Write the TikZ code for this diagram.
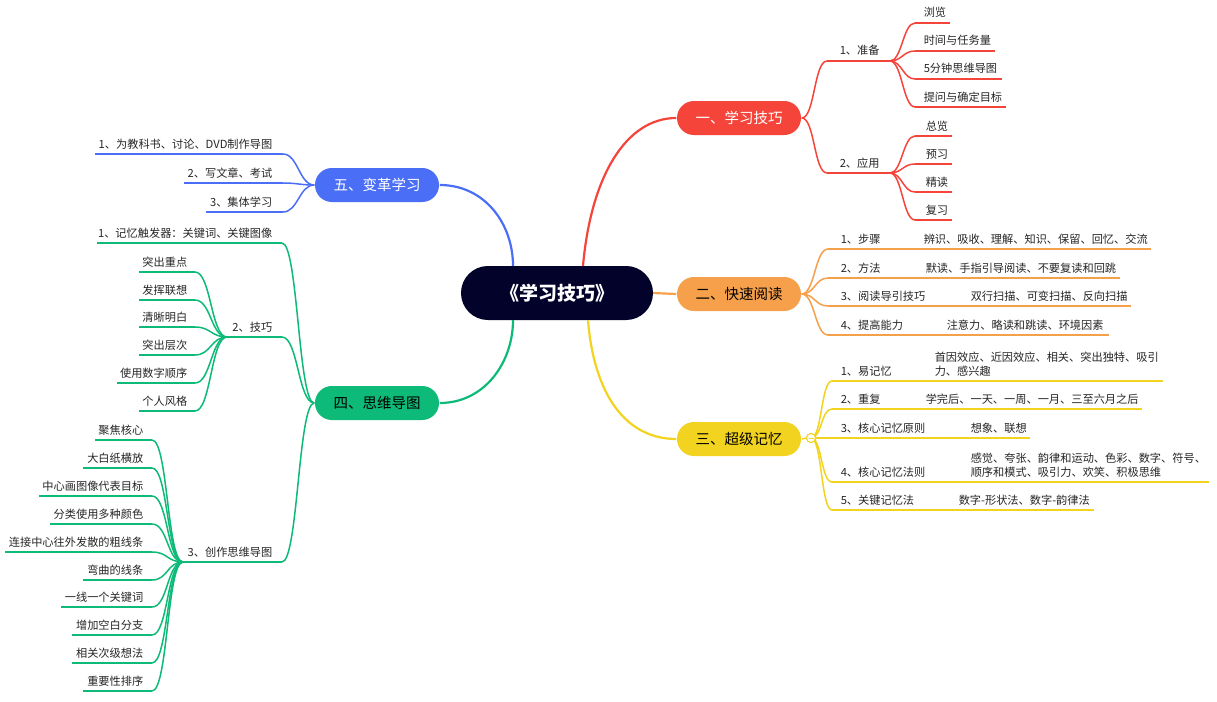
\documentclass[tikz,border=0pt]{standalone}
\usepackage{fontspec}
\setmainfont{Noto Sans CJK SC}
\usetikzlibrary{calc}
\definecolor{cC}{HTML}{02022B}
\definecolor{cR}{HTML}{F5453B}
\definecolor{cO}{HTML}{F6A04C}
\definecolor{cY}{HTML}{F2D31F}
\definecolor{cB}{HTML}{4B6EF6}
\definecolor{cG}{HTML}{0DBA78}
\definecolor{txtc}{HTML}{262626}
\newcommand\leafE[6]{%
  \coordinate (#1a) at (#2,#4);
  \coordinate (#1b) at (#3,#4);
  \draw (#1a) -- (#1b);
  \node[lbl,anchor=base west] (#1) at (#5,#4-6) {#6};}
\newcommand\leafW[6]{%
  \coordinate (#1a) at (#2,#4);
  \coordinate (#1b) at (#3,#4);
  \draw (#1a) -- (#1b);
  \node[lbl,anchor=base east] (#1) at (#5,#4-6) {#6};}
\newcommand\detailE[4]{\node[lbl,anchor=base west] (#1) at (#2,#3-6) {#4};}
\newcommand\curveTo[3]{\draw (#1) .. controls +(#3,0) and +(-#3,0) .. (#2);}
\begin{document}
\begin{tikzpicture}[x=1pt,y=-1pt,
  lbl/.style={font=\fontsize{11.2}{14}\selectfont, text=txtc, inner sep=0pt},
  mainbox/.style={rounded corners=16.9pt, minimum width=124pt, minimum height=34pt, inner sep=0pt, font=\fontsize{14.5}{17}\selectfont},
  centerbox/.style={rounded corners=26.9pt, minimum width=192pt, minimum height=54pt, inner sep=0pt, fill=cC, text=white, font=\fontsize{19}{22}\selectfont\bfseries},
  trunk/.style={line width=2.2pt}]
\fill[white] (0,0) rectangle (1217,701);
\useasboundingbox (0,0) rectangle (1217,701);

% central
\node[centerbox] (c) at (557,293) {《学习技巧》};
\coordinate (cTR) at ($(c.north)+(26,0)$);
\coordinate (cTL) at ($(c.north)+(-44,0)$);
\coordinate (cBR) at ($(c.south)+(31,0)$);
\coordinate (cBL) at ($(c.south)+(-44,0)$);

% ---------- branch 1 (red)
\begin{scope}[color=cR, line width=1.5pt]
\node[mainbox, fill=cR, text=white] (n1) at (739,118) {一、学习技巧};
\draw[trunk] (cTR) .. controls +(8,-90) and +(-50,0) .. (n1.west);
\leafE{p1}{827}{890}{61}{839}{1、准备}
\leafE{p2}{827}{890}{173}{839}{2、应用}
\curveTo{n1.east}{p1a}{13}
\curveTo{n1.east}{p2a}{13}
\leafE{pa}{915}{950}{23}{923}{浏览}
\leafE{pb}{915}{995}{51}{923}{时间与任务量}
\leafE{pc}{915}{1002}{79}{923}{5分钟思维导图}
\leafE{pd}{915}{1006}{107}{923}{提问与确定目标}
\curveTo{p1b}{paa}{12}
\curveTo{p1b}{pba}{12}
\curveTo{p1b}{pca}{12}
\curveTo{p1b}{pda}{12}
\leafE{pe}{915}{952}{136}{925}{总览}
\leafE{pf}{915}{952}{164}{925}{预习}
\leafE{pg}{915}{952}{192}{925}{精读}
\leafE{ph}{915}{952}{220}{925}{复习}
\curveTo{p2b}{pea}{12}
\curveTo{p2b}{pfa}{12}
\curveTo{p2b}{pga}{12}
\curveTo{p2b}{pha}{12}
\end{scope}

% ---------- branch 2 (orange)
\begin{scope}[color=cO, line width=1.5pt]
\node[mainbox, fill=cO, text=black] (n2) at (739,294) {二、快速阅读};
\draw[trunk] (c.east) -- (n2.west);
\leafE{q1}{828}{1151}{249}{840}{1、步骤}
\detailE{q1d}{923}{249}{辨识、吸收、理解、知识、保留、回忆、交流}
\leafE{q2}{828}{1120}{278}{840}{2、方法}
\detailE{q2d}{925}{278}{默读、手指引导阅读、不要复读和回跳}
\leafE{q3}{828}{1131}{306}{840}{3、阅读导引技巧}
\detailE{q3d}{970}{306}{双行扫描、可变扫描、反向扫描}
\leafE{q4}{828}{1109}{335}{840}{4、提高能力}
\detailE{q4d}{946}{335}{注意力、略读和跳读、环境因素}
\curveTo{n2.east}{q1a}{13}
\curveTo{n2.east}{q2a}{13}
\curveTo{n2.east}{q3a}{13}
\curveTo{n2.east}{q4a}{13}
\end{scope}

% ---------- branch 3 (yellow)
\begin{scope}[color=cY, line width=1.5pt]
\node[mainbox, fill=cY, text=black] (n3) at (739,439) {三、超级记忆};
\draw[trunk] (cBR) .. controls +(6,75) and +(-50,0) .. (n3.west);
\node[circle, draw=cY, fill=white, line width=1pt, minimum size=9pt, inner sep=0pt] (col) at (811,438) {};
\leafE{s1}{832}{1163}{381}{840}{1、易记忆}
\detailE{s1d}{934}{381}{\begin{tabular}[b]{@{}l@{}}首因效应、近因效应、相关、突出独特、吸引\\力、感兴趣\end{tabular}}
\leafE{s2}{832}{1142}{409}{840}{2、重复}
\detailE{s2d}{925}{409}{学完后、一天、一周、一月、三至六月之后}
\leafE{s3}{832}{1030}{438}{840}{3、核心记忆原则}
\detailE{s3d}{970}{438}{想象、联想}
\leafE{s4}{832}{1209}{482}{840}{4、核心记忆法则}
\detailE{s4d}{970}{482}{\begin{tabular}[b]{@{}l@{}}感觉、夸张、韵律和运动、色彩、数字、符号、\\顺序和模式、吸引力、欢笑、积极思维\end{tabular}}
\leafE{s5}{832}{1094}{510}{840}{5、关键记忆法}
\detailE{s5d}{958}{510}{数字-形状法、数字-韵律法}
\draw (n3.east) -- (col.west);
\curveTo{col.center}{s1a}{11}
\curveTo{col.center}{s2a}{11}
\curveTo{col.center}{s3a}{11}
\curveTo{col.center}{s4a}{11}
\curveTo{col.center}{s5a}{11}
\node[circle, draw=cY, fill=white, line width=1pt, minimum size=9pt, inner sep=0pt] (colb) at (col.center) {};
\draw[line width=1pt] ($(colb.center)+(-2.5,0)$) -- ($(colb.center)+(2.5,0)$);
\end{scope}

% ---------- branch 5 (blue)
\begin{scope}[color=cB, line width=1.5pt]
\node[mainbox, fill=cB, text=white] (n5) at (377,185) {五、变革学习};
\draw[trunk] (cTL) .. controls +(0,-42) and +(45,0) .. (n5.east);
\leafW{t1}{95}{283}{154}{273}{1、为教科书、讨论、DVD制作导图}
\leafW{t2}{184}{283}{183}{273}{2、写文章、考试}
\leafW{t3}{206}{283}{212}{273}{3、集体学习}
\curveTo{t1b}{n5.west}{15}
\curveTo{t2b}{n5.west}{15}
\curveTo{t3b}{n5.west}{15}
\end{scope}

% ---------- branch 4 (green)
\begin{scope}[color=cG, line width=1.5pt]
\node[mainbox, fill=cG, text=black] (n4) at (377,403) {四、思维导图};
\draw[trunk] (cBL) .. controls +(0,42) and +(45,0) .. (n4.east);
\leafW{g1}{97}{282}{243}{273}{1、记忆触发器：关键词、关键图像}
\leafW{g2}{227}{282}{337}{273}{2、技巧}
\leafW{g3}{183}{282}{562}{273}{3、创作思维导图}
\curveTo{g1b}{n4.west}{16}
\curveTo{g2b}{n4.west}{16}
\curveTo{g3b}{n4.west}{16}
% techniques
\leafW{ga}{139}{195}{272}{188}{突出重点}
\leafW{gb}{139}{195}{300}{188}{发挥联想}
\leafW{gc}{139}{195}{327}{188}{清晰明白}
\leafW{gd}{139}{195}{355}{188}{突出层次}
\leafW{ge}{117}{195}{383}{188}{使用数字顺序}
\leafW{gf}{139}{195}{411}{188}{个人风格}
\curveTo{gab}{g2a}{16}
\curveTo{gbb}{g2a}{16}
\curveTo{gcb}{g2a}{16}
\curveTo{gdb}{g2a}{16}
\curveTo{geb}{g2a}{16}
\curveTo{gfb}{g2a}{16}
% creating mind maps
\leafW{ha}{95}{152}{440}{144}{聚焦核心}
\leafW{hb}{83}{152}{468}{144}{大白纸横放}
\leafW{hc}{39}{152}{496}{144}{中心画图像代表目标}
\leafW{hd}{50}{152}{524}{144}{分类使用多种颜色}
\leafW{he}{5}{152}{552}{144}{连接中心往外发散的粗线条}
\leafW{hf}{83}{152}{580}{144}{弯曲的线条}
\leafW{hg}{61}{152}{607}{144}{一线一个关键词}
\leafW{hh}{72}{152}{635}{144}{增加空白分支}
\leafW{hi}{72}{152}{663}{144}{相关次级想法}
\leafW{hj}{83}{152}{691}{144}{重要性排序}
\curveTo{hab}{g3a}{16}
\curveTo{hbb}{g3a}{16}
\curveTo{hcb}{g3a}{16}
\curveTo{hdb}{g3a}{16}
\curveTo{heb}{g3a}{16}
\curveTo{hfb}{g3a}{16}
\curveTo{hgb}{g3a}{16}
\curveTo{hhb}{g3a}{16}
\curveTo{hib}{g3a}{16}
\curveTo{hjb}{g3a}{16}
\end{scope}
\end{tikzpicture}
\end{document}
